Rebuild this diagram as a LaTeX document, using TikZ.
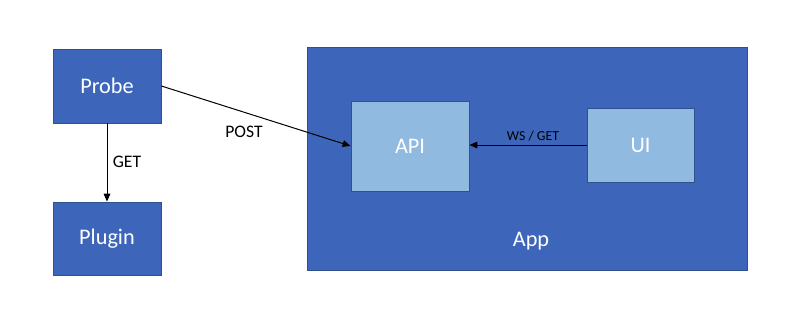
\documentclass[tikz,border=0pt]{standalone}
\usepackage{fontspec}
\setmainfont{Carlito}
\usetikzlibrary{arrows.meta}
\definecolor{boxdark}{HTML}{3D66BB}
\definecolor{boxlight}{HTML}{91BAE1}
\definecolor{edge}{HTML}{2F528F}
\tikzset{
  darkbox/.style={draw=edge, line width=0.6pt, fill=boxdark, text=white, font=\fontsize{16.7}{20}\selectfont, inner sep=0pt},
  lightbox/.style={draw=edge, line width=0.6pt, fill=boxlight, text=white, font=\fontsize{16.7}{20}\selectfont, inner sep=0pt},
  link/.style={draw=black, line width=0.75pt, -{Triangle[length=6pt,width=5pt]}},
  lbl/.style={font=\fontsize{13.2}{16}\selectfont, text=black, inner sep=0pt},
  smalllbl/.style={font=\fontsize{10.3}{12}\selectfont, text=black, inner sep=0pt}
}
\begin{document}
\begin{tikzpicture}[x=0.75pt, y=-0.75pt]
  \useasboundingbox (0,0) rectangle (800,329);
  % container
  \node[darkbox, minimum width=440*0.75pt, minimum height=223*0.75pt, anchor=north west] (app) at (307,47) {};
  \node[text=white, font=\fontsize{16.7}{20}\selectfont, inner sep=0pt] (applbl) at (531,241) {App};
  % boxes
  \node[darkbox, minimum width=108*0.75pt, minimum height=74*0.75pt] (probe) at (107,86) {Probe};
  \node[darkbox, minimum width=108*0.75pt, minimum height=73*0.75pt] (plugin) at (107,238.5) {Plugin};
  \node[lightbox, minimum width=118*0.75pt, minimum height=90*0.75pt] (api) at (410,146) {API};
  \node[lightbox, minimum width=107*0.75pt, minimum height=74*0.75pt] (ui) at (640.5,145) {UI};
  % connectors
  \draw[link] (probe.south) -- (plugin.north);
  \node[lbl] (getlbl) at (127,162) {GET};
  \draw[link] (probe.east) -- (api.west);
  \node[lbl] (postlbl) at (244,132) {POST};
  \draw[link] (ui.west) -- (ui.west -| api.east);
  \node[smalllbl] (wslbl) at (533,136) {WS / GET};
\end{tikzpicture}
\end{document}
